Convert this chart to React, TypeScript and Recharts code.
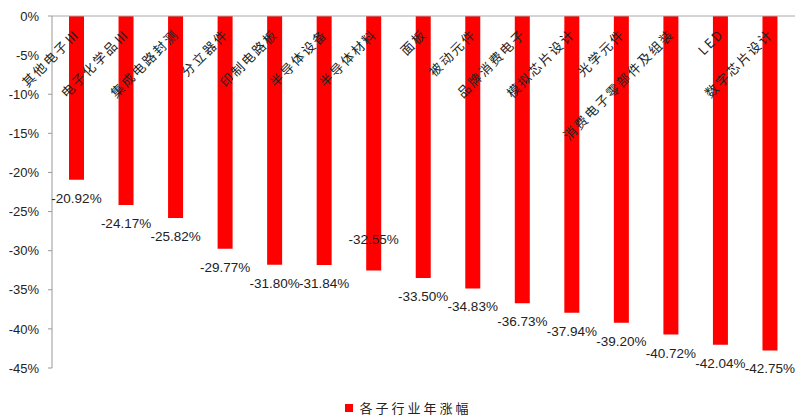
import React from 'react';
import { BarChart, Bar, XAxis, YAxis, Legend, LabelList } from 'recharts';

const categories = [
  '其他电子Ⅲ',
  '电子化学品Ⅲ',
  '集成电路封测',
  '分立器件',
  '印制电路板',
  '半导体设备',
  '半导体材料',
  '面板',
  '被动元件',
  '品牌消费电子',
  '模拟芯片设计',
  '光学元件',
  '消费电子零部件及组装',
  'LED',
  '数字芯片设计',
];
const values = [-20.92, -24.17, -25.82, -29.77, -31.8, -31.84, -32.55, -33.5, -34.83, -36.73, -37.94, -39.2, -40.72, -42.04, -42.75];
const yTicks = [0, -5, -10, -15, -20, -25, -30, -35, -40, -45];
const seriesName = '各子行业年涨幅';

const data = categories.map((name, i) => ({ name, value: values[i] }));

const CategoryTick = (props: any) => {
  const { x, payload } = props;
  const ax = x + 4;
  const ay = 35;
  return (
    <text
      x={ax}
      y={ay}
      transform={`rotate(-45, ${ax}, ${ay})`}
      textAnchor="end"
      fontSize={13}
      letterSpacing={2}
      fill="#222"
      fontFamily="'Noto Sans CJK SC', sans-serif"
    >
      {payload.value}
    </text>
  );
};

const ValueLabel = (props: any) => {
  const { x, y, width, height, value, index } = props;
  const bottom = Math.max(y, y + height);
  const cx = x + width / 2;
  const ty = index === 6 ? bottom - 27 : bottom + 23;
  return (
    <text x={cx} y={ty} textAnchor="middle" fontSize={13.5} fill="#222" fontFamily="'Liberation Sans', Arial, sans-serif">
      {Number(value).toFixed(2)}%
    </text>
  );
};

const LegendContent = () => (
  <div
    style={{
      display: 'flex',
      justifyContent: 'center',
      alignItems: 'center',
      paddingLeft: 22,
      paddingTop: 30,
      height: 49,
      boxSizing: 'border-box',
    }}
  >
    <span style={{ display: 'inline-block', width: 8, height: 8, background: '#FF0000', marginRight: 6 }} />
    <span
      style={{
        fontSize: 13,
        letterSpacing: 3,
        fontFamily: "'Noto Sans CJK SC', sans-serif",
        color: '#222',
        lineHeight: '16px',
      }}
    >
      {seriesName}
    </span>
  </div>
);

export default function App() {
  return (
    <div style={{ position: 'absolute', left: 0, top: 0, background: '#fff' }}>
      <BarChart width={800} height={417} data={data} margin={{ top: 0, right: 5, bottom: 0, left: 0 }}>
        <XAxis
          dataKey="name"
          orientation="top"
          height={16}
          axisLine={{ stroke: '#aaaaaa' }}
          tickLine={false}
          tick={<CategoryTick />}
          interval={0}
        />
        <YAxis
          domain={[-45, 0]}
          ticks={yTicks}
          width={52}
          axisLine={{ stroke: '#999999' }}
          tickLine={{ stroke: '#999999' }}
          tickSize={4}
          tickMargin={9}
          tickFormatter={(v: number) => `${v}%`}
          tick={{ fontSize: 13, fill: '#222', fontFamily: "'Liberation Sans', Arial, sans-serif" }}
          interval={0}
        />
        <Legend verticalAlign="bottom" content={<LegendContent />} wrapperStyle={{ height: 49 }} />
        <Bar dataKey="value" name={seriesName} fill="#FF0000" barSize={15} isAnimationActive={false}>
          <LabelList dataKey="value" content={<ValueLabel />} />
        </Bar>
      </BarChart>
    </div>
  );
}
